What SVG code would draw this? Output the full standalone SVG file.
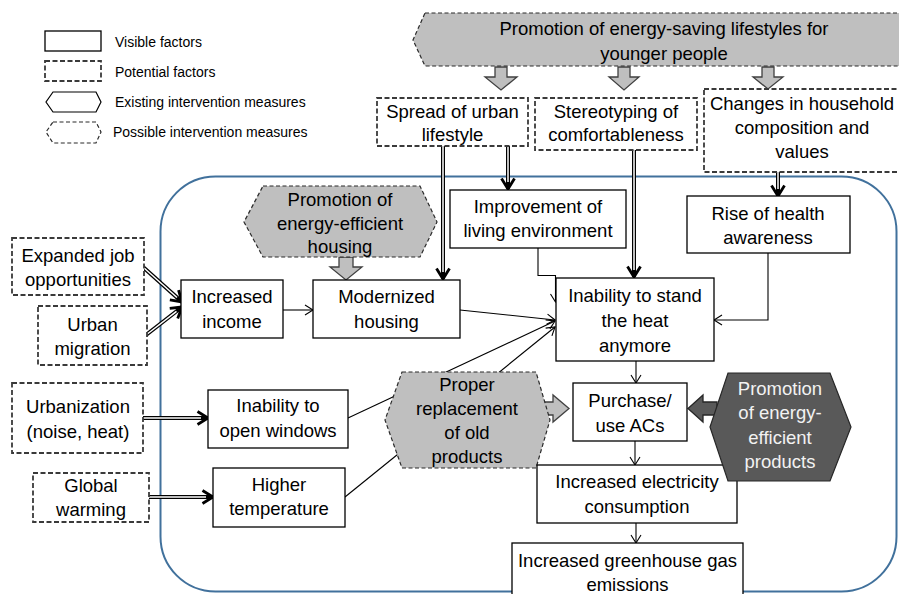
<svg xmlns="http://www.w3.org/2000/svg" width="899" height="594" viewBox="0 0 899 594">
<defs>
<style>
text{font-family:"Liberation Sans",Arial,sans-serif;font-size:18.5px;fill:#000;text-anchor:middle}
.lg{font-size:14px;text-anchor:start}
.box{fill:#fff;stroke:#000;stroke-width:1.3}
.dash{fill:#fff;stroke:#3a3a3a;stroke-width:1.8;stroke-dasharray:5 2.5}
.hexg{fill:#bfbfbf;stroke:#2a2a2a;stroke-width:1.2;stroke-dasharray:4 2.5}
.hexd{fill:#595959;stroke:#262626;stroke-width:1.2}
.barr{fill:#bfbfbf;stroke:#404040;stroke-width:1.3}
.darr{fill:#595959;stroke:#262626;stroke-width:1.3}
.thin{fill:none;stroke:#000;stroke-width:1.1}
.dblo{fill:none;stroke:#000;stroke-width:4}
.dbli{fill:none;stroke:#fff;stroke-width:1.5}
.wt{fill:#f2f2f2}
</style>
<marker id="ta" markerUnits="userSpaceOnUse" markerWidth="12" markerHeight="12" refX="8" refY="5" orient="auto" overflow="visible">
<path d="M0,0 L8,5 L0,10" fill="none" stroke="#000" stroke-width="1.1"/>
</marker>
<marker id="ha" markerUnits="userSpaceOnUse" markerWidth="16" markerHeight="16" refX="10.5" refY="6.5" orient="auto" overflow="visible">
<path d="M0,0 L10.5,6.5 L0,13" fill="none" stroke="#000" stroke-width="2.8"/>
</marker>
</defs>
<rect width="899" height="594" fill="#fff"/>

<g id="legend">
<rect x="45" y="31" width="56" height="20" class="box"/>
<text class="lg" x="115" y="47">Visible factors</text>
<rect x="45" y="61" width="56" height="20" class="dash"/>
<text class="lg" x="115" y="77">Potential factors</text>
<polygon points="53,92 96,92 101,102 96,112 53,112 46,102" fill="#fff" stroke="#000" stroke-width="1.2"/>
<text class="lg" x="115" y="107">Existing intervention measures</text>
<polygon points="53,122 96,122 101,132 96,143 53,143 46,132" fill="#fff" stroke="#2a2a2a" stroke-width="1.2" stroke-dasharray="4 2.5"/>
<text class="lg" x="113" y="137">Possible intervention measures</text>
</g>

<rect id="boundary" x="160.5" y="176.5" width="736" height="415" rx="55" fill="none" stroke="#41719c" stroke-width="2"/>

<g id="connectors">
<path class="thin" d="M283,310 H313" marker-end="url(#ta)"/>
<path class="thin" d="M460,310 L555,320" marker-end="url(#ta)"/>
<path class="thin" d="M348,418 L555,321" marker-end="url(#ta)"/>
<path class="thin" d="M345,497 L555,327" marker-end="url(#ta)"/>
<path class="thin" d="M538,248 V275.5 H555.5 V302" marker-end="url(#ta)"/>
<path class="thin" d="M768,253 V320 H714" marker-end="url(#ta)"/>
<path class="thin" d="M636,361 V383" marker-end="url(#ta)"/>
<path class="thin" d="M635,441 V465" marker-end="url(#ta)"/>
<path class="thin" d="M636,523 V543" marker-end="url(#ta)"/>

<path class="dblo" d="M443,146 V279" marker-end="url(#ha)"/>
<path class="dbli" d="M443,146 V272"/>
<path class="dblo" d="M508,146 V189" marker-end="url(#ha)"/>
<path class="dbli" d="M508,146 V182"/>
<path class="dblo" d="M634,150 V277" marker-end="url(#ha)"/>
<path class="dbli" d="M634,150 V270"/>
<path class="dblo" d="M778,172 V196" marker-end="url(#ha)"/>
<path class="dbli" d="M778,172 V189"/>
<path class="dblo" d="M143,267 L182,302" marker-end="url(#ha)"/>
<path class="dbli" d="M143,267 L177,297.5"/>
<path class="dblo" d="M146,335 L182,307" marker-end="url(#ha)"/>
<path class="dbli" d="M146,335 L176.5,311.3"/>
<path class="dblo" d="M143,418 H208" marker-end="url(#ha)"/>
<path class="dbli" d="M143,418 H201"/>
<path class="dblo" d="M148,497 H213" marker-end="url(#ha)"/>
<path class="dbli" d="M148,497 H206"/>

<polygon class="barr" points="495,67 507,67 507,77 517,77 501,90 485,77 495,77"/>
<polygon class="barr" points="618,67 630,67 630,77 639,77 624,90 609,77 618,77"/>
<polygon class="barr" points="762,67 774,67 774,77 783,77 768,89 753,77 762,77"/>
<polygon class="barr" points="339,257 353,257 353,267 362,267 346,280 330,267 339,267"/>
<polygon class="barr" points="542,402 553,402 553,395 569,408.5 553,422 553,415 542,415"/>
<polygon class="darr" points="717,402 703,402 703,395 688,408.5 703,422 703,415 717,415"/>
</g>

<g id="n-top">
<polygon class="hexg" points="425,13 906,13 916,40 906,66 425,66 413,40"/>
<text x="664" y="35">Promotion of energy-saving lifestyles for</text>
<text x="664" y="60">younger people</text>
</g>
<g id="n-spread">
<rect class="dash" x="377" y="98" width="151" height="48"/>
<text x="452.5" y="118">Spread of urban</text>
<text x="452.5" y="141">lifestyle</text>
</g>
<g id="n-stereo">
<rect class="dash" x="535" y="98" width="162" height="52"/>
<text x="616" y="118">Stereotyping of</text>
<text x="616" y="141">comfortableness</text>
</g>
<g id="n-changes">
<rect class="dash" x="704" y="89" width="205" height="83"/>
<text x="802" y="110">Changes in household</text>
<text x="802" y="134">composition and</text>
<text x="802" y="158">values</text>
</g>
<g id="n-improve">
<rect class="box" x="450" y="190" width="176" height="58"/>
<text x="538" y="213">Improvement of</text>
<text x="538" y="237">living environment</text>
</g>
<g id="n-health">
<rect class="box" x="687" y="196" width="163" height="57"/>
<text x="768" y="220">Rise of health</text>
<text x="768" y="244">awareness</text>
</g>
<g id="n-housing-promo">
<polygon class="hexg" points="263,186 420,186 437,222 420,257 263,257 244,222"/>
<text x="340" y="206">Promotion of</text>
<text x="340" y="230">energy-efficient</text>
<text x="340" y="253">housing</text>
</g>
<g id="n-jobs">
<rect class="dash" x="12" y="238" width="132" height="57"/>
<text x="78" y="262">Expanded job</text>
<text x="78" y="286">opportunities</text>
</g>
<g id="n-migration">
<rect class="dash" x="38" y="306" width="109" height="59"/>
<text x="92.5" y="331">Urban</text>
<text x="92.5" y="355">migration</text>
</g>
<g id="n-income">
<rect class="box" x="181" y="280" width="102" height="58"/>
<text x="232" y="303">Increased</text>
<text x="232" y="328">income</text>
</g>
<g id="n-modern">
<rect class="box" x="313" y="280" width="147" height="58"/>
<text x="386.5" y="303">Modernized</text>
<text x="386.5" y="328">housing</text>
</g>
<g id="n-heat">
<rect class="box" x="556" y="278" width="158" height="83"/>
<text x="635" y="302">Inability to stand</text>
<text x="635" y="327">the heat</text>
<text x="635" y="352">anymore</text>
</g>
<g id="n-urbanization">
<rect class="dash" x="12" y="383" width="131" height="70"/>
<text x="78" y="413">Urbanization</text>
<text x="78" y="438">(noise, heat)</text>
</g>
<g id="n-global">
<rect class="dash" x="33" y="473" width="116" height="49"/>
<text x="91" y="492">Global</text>
<text x="91" y="516">warming</text>
</g>
<g id="n-windows">
<rect class="box" x="208" y="390" width="140" height="58"/>
<text x="278" y="412">Inability to</text>
<text x="278" y="437">open windows</text>
</g>
<g id="n-temp">
<rect class="box" x="213" y="468" width="132" height="59"/>
<text x="279" y="491">Higher</text>
<text x="279" y="515">temperature</text>
</g>
<g id="n-replace">
<polygon class="hexg" points="402,372 536,372 550,420 536,468 402,468 385,420"/>
<text x="467" y="391">Proper</text>
<text x="467" y="415">replacement</text>
<text x="467" y="439">of old</text>
<text x="467" y="463">products</text>
</g>
<g id="n-purchase">
<rect class="box" x="573" y="383" width="114" height="58"/>
<text x="630" y="407">Purchase/</text>
<text x="630" y="432">use ACs</text>
</g>
<g id="n-electricity">
<rect class="box" x="537" y="465" width="200" height="58"/>
<text x="637" y="488">Increased electricity</text>
<text x="637" y="513">consumption</text>
</g>
<g id="n-products-promo">
<polygon class="hexd" points="728,373 830,373 851,427 830,481 728,481 710,427"/>
<text class="wt" x="780" y="395">Promotion</text>
<text class="wt" x="780" y="419">of energy-</text>
<text class="wt" x="780" y="444">efficient</text>
<text class="wt" x="780" y="468">products</text>
</g>
<g id="n-ghg">
<rect class="box" x="512" y="543" width="231" height="60"/>
<text x="627.5" y="567">Increased greenhouse gas</text>
<text x="627.5" y="591">emissions</text>
</g>
</svg>
